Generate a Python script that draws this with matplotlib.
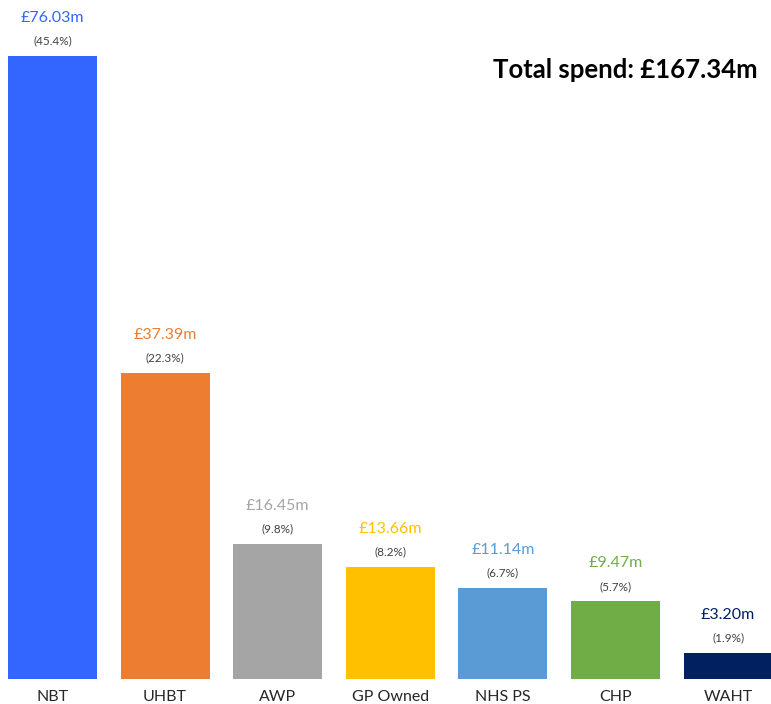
import matplotlib
matplotlib.use("Agg")
import matplotlib.pyplot as plt

categories = ["NBT", "UHBT", "AWP", "GP Owned", "NHS PS", "CHP", "WAHT"]
values = [76.03, 37.39, 16.45, 13.66, 11.14, 9.47, 3.20]
percents = ["45.4%", "22.3%", "9.8%", "8.2%", "6.7%", "5.7%", "1.9%"]
colors = ["#3366FF", "#ED7D31", "#A5A5A5", "#FFC000", "#5B9BD5", "#70AD47", "#002060"]
total_label = "Total spend: £167.34m"

plt.rcParams['font.family'] = ['Lato', 'DejaVu Sans']

fig = plt.figure(figsize=(7.71, 7.04), dpi=100)
ax = fig.add_axes([0, 25/704, 1, 679/704])
x = list(range(len(categories)))
ax.bar(x, values, width=0.79, color=colors)
ax.set_xlim(-0.466, 6.381)
ax.set_ylim(0, 82.9)
for s in ax.spines.values():
    s.set_visible(False)
ax.set_yticks([])
ax.set_xticks([])

for i, (v, p, c) in enumerate(zip(values, percents, colors)):
    ax.annotate(f"£{v:.2f}m", (i, v), xytext=(0, 38), textcoords="offset pixels",
                ha="center", va="center", fontsize=11.5, color=c)
    ax.annotate(f"({p})", (i, v), xytext=(0, 15), textcoords="offset pixels",
                ha="center", va="center", fontsize=8.5, color="#404040")
    ax.annotate(categories[i], (i, 0), xytext=(0, -18), textcoords="offset pixels",
                ha="center", va="center", fontsize=11.5, color="#262626",
                annotation_clip=False)

fig.text(758/771, 1 - 70/704, total_label, ha="right", va="center",
         fontsize=18.5, fontweight="bold", color="black")

fig.savefig("out.png", dpi=100)
